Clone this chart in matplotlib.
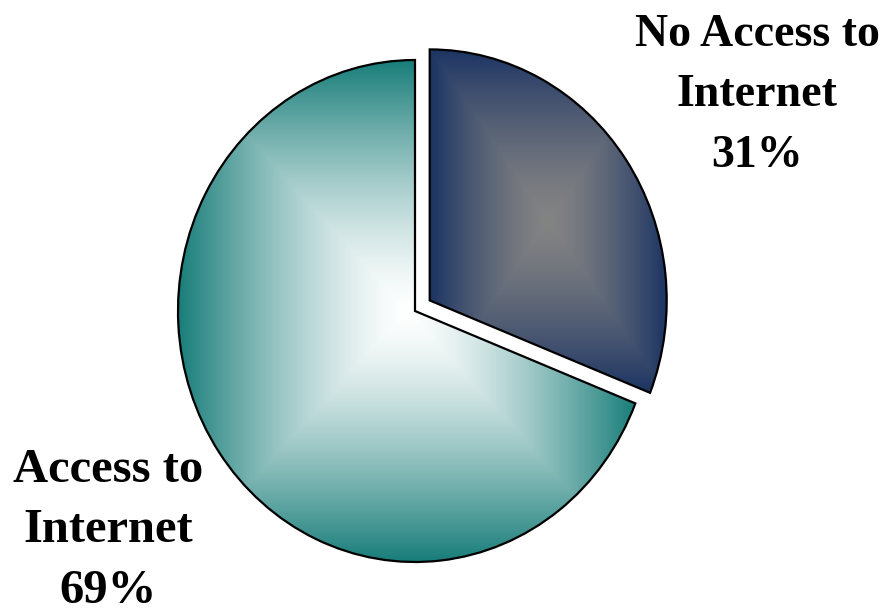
import matplotlib.pyplot as plt
import numpy as np

# data
labels = ['No Access to\nInternet\n31%', 'Access to\nInternet\n69%']
values = [31, 69]
explode = [0.075, 0.0]
edge_cols = ['#1c3463', '#187d79']     # colour at the slice border
center_cols = ['#838383', '#ffffff']   # colour at the slice middle

plt.rcParams['font.family'] = ['Liberation Serif', 'DejaVu Serif']

fig = plt.figure(figsize=(8.89, 6.12), dpi=100)
ax = fig.add_axes([0, 0, 1, 1])

wedges, _ = ax.pie(values, explode=explode, startangle=90, counterclock=False,
                   wedgeprops=dict(facecolor='none', edgecolor='black',
                                   linewidth=1.6, zorder=3))
# slightly flattened pie like the original
ax.set_aspect('auto')
ax.set_xlim(-415 / 237, (889 - 415) / 237)
ax.set_ylim(-(612 - 311) / 251, 311 / 251)
ax.axis('off')


def hex2rgb(h):
    h = h.lstrip('#')
    return np.array([int(h[i:i + 2], 16) / 255 for i in (0, 2, 4)])


# rectangular "from centre" gradient fill for each slice
for w, ec, cc in zip(wedges, edge_cols, center_cols):
    ang = np.radians(np.linspace(w.theta1, w.theta2, 400))
    xs = np.r_[w.center[0], w.center[0] + w.r * np.cos(ang)]
    ys = np.r_[w.center[1], w.center[1] + w.r * np.sin(ang)]
    x0, x1, y0, y1 = xs.min(), xs.max(), ys.min(), ys.max()
    gx, gy = np.meshgrid(np.linspace(x0, x1, 500), np.linspace(y1, y0, 500))
    cx, cy = (x0 + x1) / 2, (y0 + y1) / 2
    t = np.maximum(np.abs(gx - cx) / ((x1 - x0) / 2), np.abs(gy - cy) / ((y1 - y0) / 2))
    m = np.clip(t, 0, 1) ** 1.4
    img = hex2rgb(cc)[None, None, :] * (1 - m[..., None]) + hex2rgb(ec)[None, None, :] * m[..., None]
    im = ax.imshow(img, extent=(x0, x1, y0, y1), aspect='auto', zorder=2, interpolation='bilinear')
    im.set_clip_path(w)

# va='baseline' lines up the last line of the label
fig.text(757 / 889, 1 - 167 / 612, labels[0], ha='center', va='baseline',
         fontsize=33, fontweight='bold', linespacing=1.58)
fig.text(108 / 889, 1 - 603 / 612, labels[1], ha='center', va='baseline',
         fontsize=35, fontweight='bold', linespacing=1.49)

fig.savefig('out.png', dpi=100)
